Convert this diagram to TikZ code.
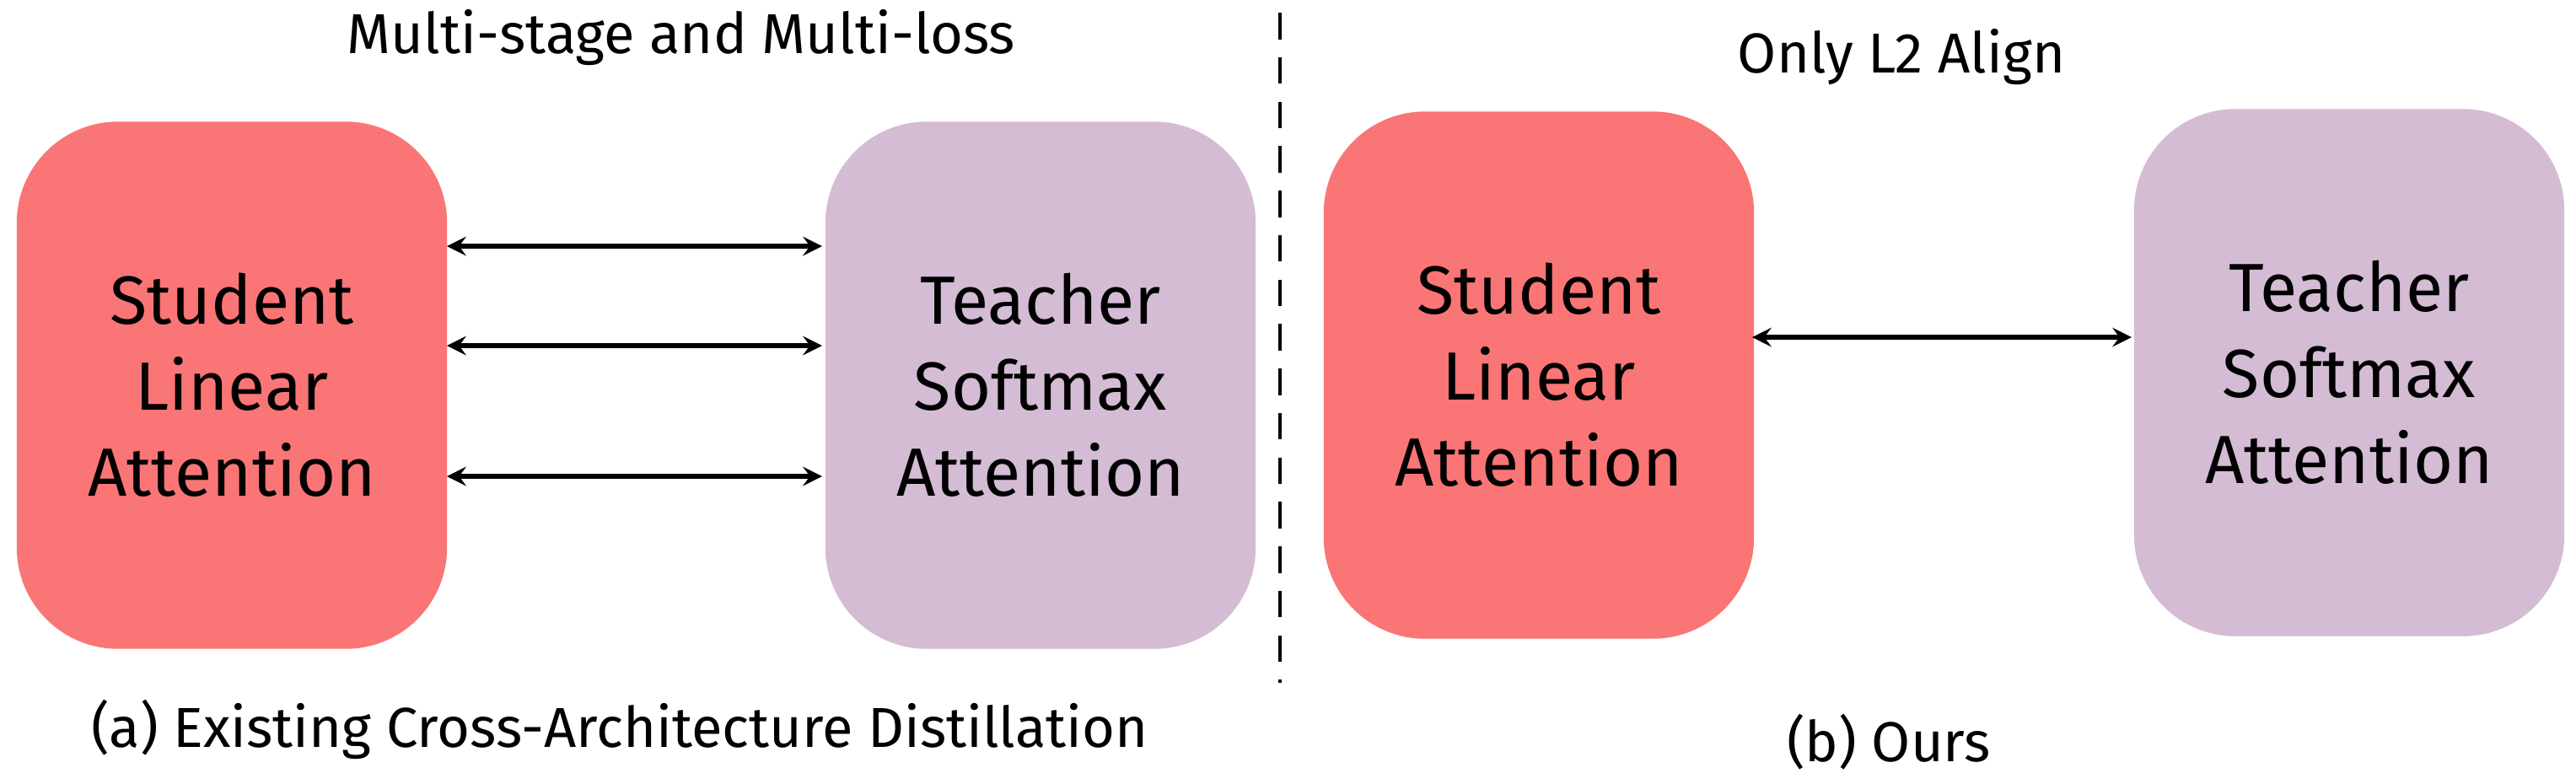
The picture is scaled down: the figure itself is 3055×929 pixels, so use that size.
\documentclass[tikz,border=0pt]{standalone}
\usepackage{fontspec}
\setmainfont{Fira Sans}
\begin{document}
\begin{tikzpicture}[x=0.01cm,y=-0.01cm,
  box/.style={draw=none,rounded corners=1.2cm,minimum width=5.1cm,minimum height=6.25cm,align=center,font=\fontsize{23}{29}\selectfont},
  stu/.style={box,fill={rgb,255:red,250;green,117;blue,117}},
  tea/.style={box,fill={rgb,255:red,212;green,188;blue,212}},
  arr/.style={<->,>=stealth,line width=1.8pt},
  lab/.style={font=\fontsize{19}{23}\selectfont}]
\useasboundingbox (0,0) rectangle (3055,929);
\node[stu] (s1) at (275,457) {Student\\Linear\\Attention};
\node[tea] (t1) at (1234,457) {Teacher\\Softmax\\Attention};
\node[stu] (s2) at (1825,445) {Student\\Linear\\Attention};
\node[tea] (t2) at (2786,442) {Teacher\\Softmax\\Attention};
\foreach \y in {292,410,565}{
  \coordinate (a\y) at (530,\y); \coordinate (b\y) at (975,\y);
  \draw[arr] (a\y) -- (b\y);}
\coordinate (c1) at (2078,400); \coordinate (c2) at (2528,400);
\draw[arr] (c1) -- (c2);
\coordinate (d1) at (1518,15); \coordinate (d2) at (1518,810);
\draw[dash pattern=on 9pt off 6pt,line width=1.2pt] (d1) -- (d2);
\node[lab] (m1) at (808,45) {Multi-stage and Multi-loss};
\node[lab] (m2) at (2255,68) {Only L2 Align};
\node[lab] (ca) at (735,865) {(a) Existing Cross-Architecture Distillation};
\node[lab] (cb) at (2240,880) {(b) Ours};
\end{tikzpicture}
\end{document}
